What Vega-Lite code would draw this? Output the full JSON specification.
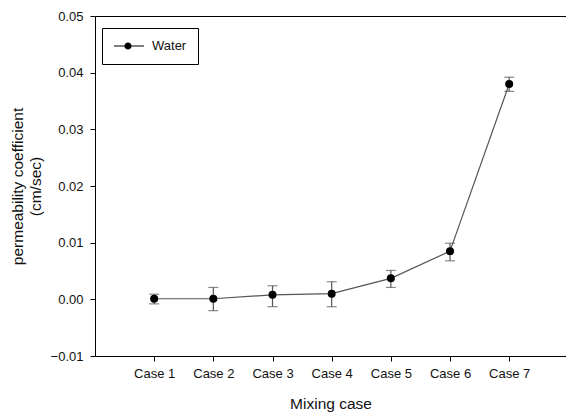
{
  "$schema": "https://vega.github.io/schema/vega-lite/v6.json",
  "width": 471,
  "height": 340,
  "autosize": {"type": "none"},
  "padding": {"left": 95, "top": 16, "right": 0, "bottom": 58},
  "background": "white",
  "config": {
    "view": {"stroke": null},
    "font": "Liberation Sans",
    "axis": {
      "domainColor": "black",
      "tickColor": "black",
      "tickSize": 5,
      "grid": false,
      "labelColor": "#111",
      "titleColor": "#111",
      "labelFont": "Liberation Sans",
      "titleFont": "Liberation Sans",
      "labelFontSize": 13,
      "titleFontSize": 15.5,
      "titleFontWeight": "normal"
    }
  },
  "data": {
    "values": [
      {"case": 1, "value": 0.0001, "lo": -0.0008, "hi": 0.0009, "series": "Water"},
      {"case": 2, "value": 0.0001, "lo": -0.0020, "hi": 0.0021, "series": "Water"},
      {"case": 3, "value": 0.0008, "lo": -0.0013, "hi": 0.0024, "series": "Water"},
      {"case": 4, "value": 0.0010, "lo": -0.0013, "hi": 0.0031, "series": "Water"},
      {"case": 5, "value": 0.0037, "lo": 0.0021, "hi": 0.0051, "series": "Water"},
      {"case": 6, "value": 0.0085, "lo": 0.0068, "hi": 0.0099, "series": "Water"},
      {"case": 7, "value": 0.0380, "lo": 0.0367, "hi": 0.0392, "series": "Water"}
    ]
  },
  "resolve": {"axis": {"x": "independent"}},
  "layer": [
    {
      "mark": {"type": "line", "color": "#555", "strokeWidth": 1.2},
      "encoding": {
        "x": {"field": "case", "type": "quantitative",
          "scale": {"domain": [0, 7.96], "nice": false, "zero": false},
          "axis": {"orient": "top", "labels": false, "ticks": false, "title": null}},
        "y": {"field": "value", "type": "quantitative",
          "scale": {"domain": [-0.01, 0.05], "nice": false, "zero": false},
          "axis": {"values": [-0.01, 0, 0.01, 0.02, 0.03, 0.04, 0.05], "format": ".2f",
            "title": ["permeability coefficient", "(cm/sec)"],
            "labelPadding": 7, "titlePadding": 7, "titleLineHeight": 18}}
      }
    },
    {
      "mark": {"type": "rule", "color": "#555", "strokeWidth": 1.2},
      "encoding": {
        "x": {"field": "case", "type": "quantitative", "axis": null},
        "y": {"field": "lo", "type": "quantitative"},
        "y2": {"field": "hi"}
      }
    },
    {
      "mark": {"type": "tick", "orient": "horizontal", "color": "#555", "size": 10, "thickness": 1.2},
      "encoding": {
        "x": {"field": "case", "type": "quantitative", "axis": null},
        "y": {"field": "lo", "type": "quantitative"}
      }
    },
    {
      "mark": {"type": "tick", "orient": "horizontal", "color": "#555", "size": 10, "thickness": 1.2},
      "encoding": {
        "x": {"field": "case", "type": "quantitative", "axis": null},
        "y": {"field": "hi", "type": "quantitative"}
      }
    },
    {
      "mark": {"type": "point", "shape": "circle", "filled": true, "size": 64, "opacity": 1},
      "encoding": {
        "x": {"field": "case", "type": "quantitative",
          "axis": {"values": [1, 2, 3, 4, 5, 6, 7], "labelExpr": "'Case ' + datum.value",
            "title": "Mixing case", "labelPadding": 6, "titlePadding": 16}},
        "y": {"field": "value", "type": "quantitative"},
        "color": {"field": "series", "type": "nominal",
          "scale": {"range": ["black"]},
          "legend": {
            "title": null,
            "orient": "none",
            "legendX": 7,
            "legendY": 12,
            "padding": 11,
            "strokeColor": "black",
            "fillColor": "white",
            "symbolType": "M-1,-0.09L4,-0.09L4,0.09L-1,0.09ZM0.73,0A0.6,0.6,0,1,1,1.93,0A0.6,0.6,0,1,1,0.73,0Z",
            "symbolSize": 144,
            "labelOffset": 25,
            "labelFont": "Liberation Sans",
            "labelFontSize": 13,
            "labelColor": "#111",
            "encode": {"symbols": {"update": {"fill": {"value": "black"}, "opacity": {"value": 1}, "fillOpacity": {"value": 1}, "stroke": {"value": "transparent"}}}}
          }}
      }
    }
  ]
}
